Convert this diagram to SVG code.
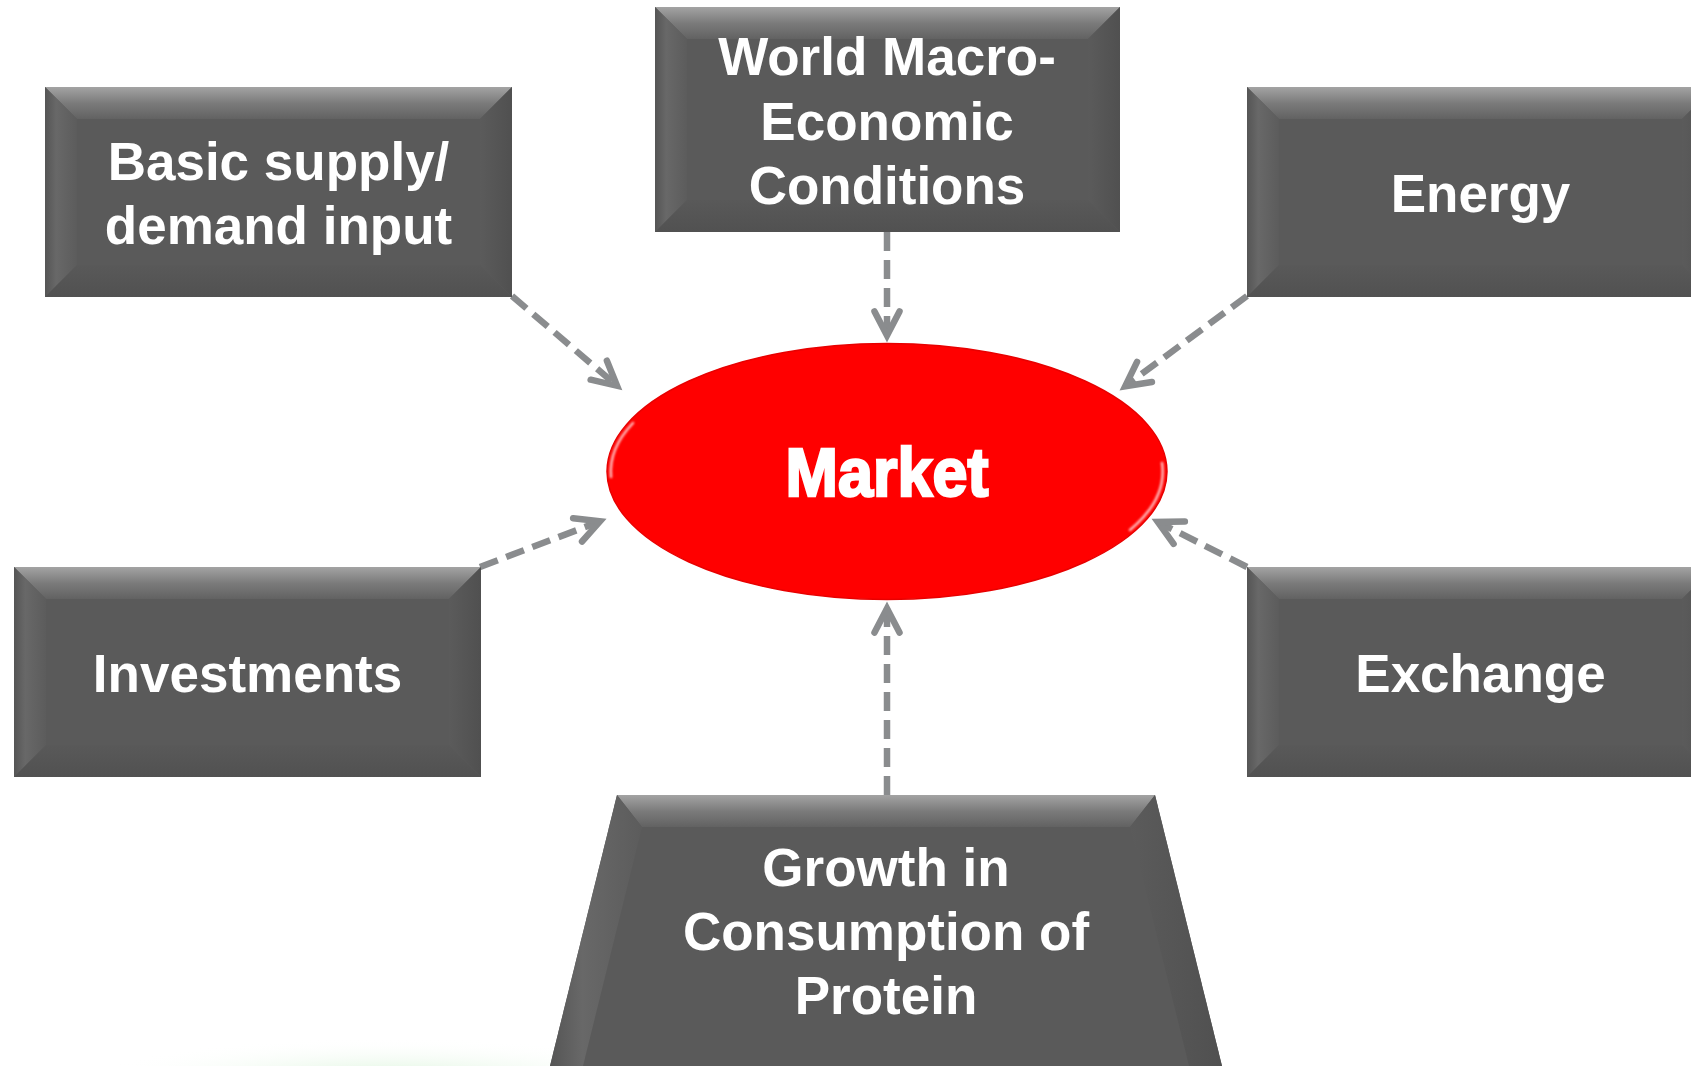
<svg xmlns="http://www.w3.org/2000/svg" xmlns:xlink="http://www.w3.org/1999/xlink" width="1691" height="1066" viewBox="0 0 1691 1066">
  <style>
    .face { fill: #5a5a5a; }
    .bv-top { fill: url(#bvTop); }
    .bv-left { fill: url(#bvLeft); }
    .bv-right { fill: url(#bvRight); }
    .bv-bottom { fill: url(#bvBottom); }
    .label { font-family: "Liberation Sans", Arial, sans-serif; font-weight: bold; font-size: 53px; fill: #ffffff; text-anchor: middle; }
    .market { font-family: "Liberation Sans", Arial, sans-serif; font-weight: bold; font-size: 68px; fill: #ffffff; stroke: #ffffff; stroke-width: 2.5; text-anchor: middle; }
    .link { fill: none; stroke: #8a8c8e; stroke-width: 6.5; stroke-dasharray: 19 9; marker-end: url(#chevron); }
  </style>
  <defs>
    <linearGradient id="bvTop" x1="0" y1="0" x2="0" y2="1">
      <stop offset="0" stop-color="#a3a3a3"/>
      <stop offset="0.5" stop-color="#7b7b7b"/>
      <stop offset="1" stop-color="#626262"/>
    </linearGradient>
    <linearGradient id="bvLeft" x1="0" y1="0" x2="1" y2="0">
      <stop offset="0" stop-color="#555555"/>
      <stop offset="0.35" stop-color="#686868"/>
      <stop offset="1" stop-color="#5c5c5c"/>
    </linearGradient>
    <linearGradient id="bvRight" x1="0" y1="0" x2="1" y2="0">
      <stop offset="0" stop-color="#5b5b5b"/>
      <stop offset="1" stop-color="#505050"/>
    </linearGradient>
    <linearGradient id="bvBottom" x1="0" y1="0" x2="0" y2="1">
      <stop offset="0" stop-color="#595959"/>
      <stop offset="1" stop-color="#515151"/>
    </linearGradient>
    <radialGradient id="haze" cx="0.5" cy="0.5" r="0.5">
      <stop offset="0" stop-color="#d8f3d8" stop-opacity="1"/>
      <stop offset="1" stop-color="#ffffff" stop-opacity="0"/>
    </radialGradient>
    <filter id="soft" x="-20%" y="-20%" width="140%" height="140%">
      <feGaussianBlur stdDeviation="1.2"/>
    </filter>
    <marker id="chevron" markerUnits="userSpaceOnUse" markerWidth="60" markerHeight="60" viewBox="-40 -30 60 60" refX="0" refY="0" orient="auto" overflow="visible">
      <path d="M-24,-12.5 L0,0 L-24,12.5" fill="none" stroke="#8a8c8e" stroke-width="6.5" stroke-linecap="round" stroke-linejoin="miter"/>
    </marker>
    <!-- bevelled rectangle, 467 x 210, bevel 32 -->
    <g id="box">
      <rect class="face" x="0" y="0" width="467" height="210"/>
      <polygon class="bv-top" points="0,0 467,0 435,32 32,32"/>
      <polygon class="bv-left" points="0,0 32,32 32,178 0,210"/>
      <polygon class="bv-right" points="467,0 467,210 435,178 435,32"/>
      <polygon class="bv-bottom" points="0,210 32,178 435,178 467,210"/>
    </g>
  </defs>

  <rect x="0" y="0" width="1691" height="1066" fill="#ffffff"/>
  <ellipse cx="390" cy="1080" rx="300" ry="42" fill="url(#haze)"/>

  <!-- connectors -->
  <g id="connectors">
    <path class="link" d="M512,296 L617,385.8"/>
    <path class="link" d="M887,232 L887,335.5"/>
    <path class="link" d="M1247,296 L1125.2,386.2"/>
    <path class="link" d="M480,567 L600,521.3"/>
    <path class="link" d="M1247,567 L1157.8,521.9"/>
    <path class="link" d="M887,795 L887,608.5"/>
  </g>

  <g id="node-basic" transform="translate(45,87)">
    <use href="#box"/>
    <text class="label" x="233.5" y="93">Basic supply/</text>
    <text class="label" x="233.5" y="157">demand input</text>
  </g>

  <g id="node-world">
    <rect class="face" x="655" y="7" width="465" height="225"/>
    <polygon class="bv-top" points="655,7 1120,7 1088,39 687,39"/>
    <polygon class="bv-left" points="655,7 687,39 687,200 655,232"/>
    <polygon class="bv-right" points="1120,7 1120,232 1088,200 1088,39"/>
    <polygon class="bv-bottom" points="655,232 687,200 1088,200 1120,232"/>
    <text class="label" x="887" y="75">World Macro-</text>
    <text class="label" x="887" y="140">Economic</text>
    <text class="label" x="887" y="204">Conditions</text>
  </g>

  <g id="node-energy" transform="translate(1247,87)">
    <use href="#box"/>
    <text class="label" x="233.5" y="125">Energy</text>
  </g>

  <g id="node-investments" transform="translate(14,567)">
    <use href="#box"/>
    <text class="label" x="233.5" y="125">Investments</text>
  </g>

  <g id="node-exchange" transform="translate(1247,567)">
    <use href="#box"/>
    <text class="label" x="233.5" y="125">Exchange</text>
  </g>

  <g id="node-protein">
    <polygon class="face" points="617,795 1155,795 1222,1066 550,1066"/>
    <polygon class="bv-top" points="617,795 1155,795 1130,827 642,827"/>
    <polygon class="bv-left" points="617,795 642,827 583,1066 550,1066"/>
    <polygon class="bv-right" points="1155,795 1222,1066 1189,1066 1130,827"/>
    <text class="label" x="886" y="886">Growth in</text>
    <text class="label" x="886" y="950">Consumption of</text>
    <text class="label" x="886" y="1014">Protein</text>
  </g>

  <g id="node-market">
    <ellipse cx="887" cy="471.5" rx="280" ry="128" fill="#ff0000" stroke="#e80000" stroke-width="1.5"/>
    <path d="M633,423 A276,124 0 0,0 611,477" fill="none" stroke="#ffffff" stroke-width="2.5" stroke-linecap="round" opacity="0.75" filter="url(#soft)"/>
    <path d="M1162,463 A276,124 0 0,1 1130,530" fill="none" stroke="#ffffff" stroke-width="2.5" stroke-linecap="round" opacity="0.75" filter="url(#soft)"/>
    <text class="market" x="887" y="496" textLength="203" lengthAdjust="spacingAndGlyphs">Market</text>
  </g>
</svg>
